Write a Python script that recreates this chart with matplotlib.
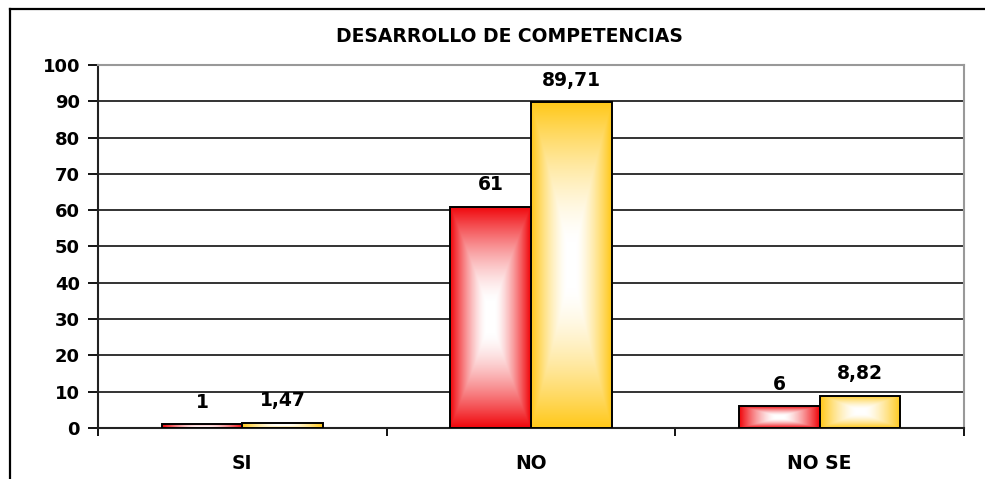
import matplotlib
matplotlib.use("Agg")
import matplotlib.pyplot as plt
import numpy as np
from matplotlib.lines import Line2D

categories = ["SI", "NO", "NO SE"]
series_red = [1, 61, 6]
series_yellow = [1.47, 89.71, 8.82]
title = "DESARROLLO DE COMPETENCIAS"
yticks = list(range(0, 101, 10))

plt.rcParams['font.family'] = ['DejaVu Sans']
plt.rcParams['font.weight'] = 'bold'

fig = plt.figure(figsize=(9.85, 4.79), dpi=100)
ax = fig.add_axes([98/985, 51/479, (964-98)/985, (428-65)/479])
ax.set_xlim(-0.5, len(categories) - 0.5)
ax.set_ylim(0, 100)

x = np.arange(len(categories))
w = 0.28

def grad_bar(ax, xc, h, base):
    bars = ax.bar(xc, h, width=w, align='edge', color='none', edgecolor='black',
                  linewidth=1.4, zorder=4)
    b = bars[0]
    x0 = b.get_x(); x1 = x0 + b.get_width()
    H, W = 300, 100
    u = np.linspace(-1, 1, W)
    v = np.linspace(-1, 1, H)
    U, V = np.meshgrid(u, v)
    m = np.maximum(np.abs(U), np.abs(V) ** 1.1)
    t = np.clip((m - 0.12) / 0.88, 0, 1) ** 1.4
    base = np.array(base) / 255.0
    img = (1 - t)[..., None] * np.ones(3) + t[..., None] * base
    im = ax.imshow(img, extent=[x0, x1, 0, h], aspect='auto', zorder=3,
                   interpolation='bilinear', origin='lower')
    bb = ax.bar(xc, h, width=w, align='edge', color='none', edgecolor='none', zorder=3)
    im.set_clip_path(bb[0])

red = (240, 5, 10)
yel = (255, 200, 25)

for i in range(len(categories)):
    grad_bar(ax, x[i] - w, series_red[i], red)
    grad_bar(ax, x[i], series_yellow[i], yel)

def fmt(v):
    return f"{v:g}".replace('.', ',')

for i in range(len(categories)):
    ax.annotate(fmt(series_red[i]), (x[i] - w/2, series_red[i]), xytext=(0, 9),
                textcoords='offset points', ha='center', va='bottom',
                fontsize=13.5, fontweight='bold', zorder=5)
    ax.annotate(fmt(series_yellow[i]), (x[i] + w/2, series_yellow[i]), xytext=(0, 9),
                textcoords='offset points', ha='center', va='bottom',
                fontsize=13.5, fontweight='bold', zorder=5)

ax.set_xlim(-0.5, len(categories) - 0.5)
ax.set_ylim(0, 100)
ax.set_yticks(yticks)
ax.set_yticklabels([str(t) for t in yticks], fontsize=13, fontweight='bold')
ax.tick_params(axis='y', length=7, width=1.3, color='black', direction='out', pad=6)

ax.set_xticks(x)
ax.set_xticklabels(categories, fontsize=13.5, fontweight='bold')
ax.tick_params(axis='x', which='major', length=0, pad=19)
ax.set_xticks(np.arange(-0.5, len(categories), 1.0), minor=True)
ax.tick_params(axis='x', which='minor', length=6, width=1.3, color='black', direction='out')

ax.yaxis.grid(True, color='#333333', linewidth=1.4, zorder=1)
ax.set_axisbelow(True)
for s in ['top', 'right']:
    ax.spines[s].set_color('#999999')
    ax.spines[s].set_linewidth(1.5)
for s in ['left', 'bottom']:
    ax.spines[s].set_color('#222222')
    ax.spines[s].set_linewidth(1.5)

fig.text(509/985, 1 - 36/479, title, ha='center', va='center',
         fontsize=13.5, fontweight='bold')

# outer frame (top and left edges)
fig.add_artist(Line2D([10/985, 1.0], [1 - 9/479, 1 - 9/479], transform=fig.transFigure,
                      color='black', linewidth=1.6))
fig.add_artist(Line2D([10/985, 10/985], [0, 1 - 9/479], transform=fig.transFigure,
                      color='black', linewidth=1.6))

fig.savefig("out.png", dpi=100)
